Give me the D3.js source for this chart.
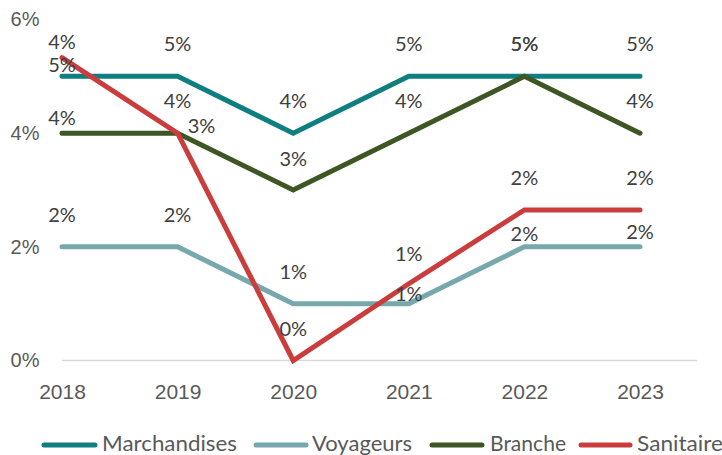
<!DOCTYPE html>
<html>
<head>
<meta charset="utf-8">
<script src="https://cdn.jsdelivr.net/npm/d3@7"></script>
<style>
  body { margin: 0; background: #fff; }
  svg { font-family: "Lato", "Open Sans", sans-serif; }
</style>
</head>
<body>
<svg></svg>
<script>
const years = ["2018", "2019", "2020", "2021", "2022", "2023"];
const seriesNames = ["Marchandises", "Voyageurs", "Branche", "Sanitaire"];
const marchandises = [5, 5, 4, 5, 5, 5];
const voyageurs = [2, 2, 1, 1, 2, 2];
const branche = [4, 4, 3, 4, 5, 4];
const sanitaire = [5.33, 4, 0, 1.35, 2.65, 2.65];
const marchandisesLabels = ["5%", "5%", "4%", "5%", "5%", "5%"];
const voyageursLabels = ["2%", "2%", "1%", "1%", "2%", "2%"];
const brancheLabels = ["4%", "4%", "3%", "4%", "5%", "4%"];
const sanitaireLabels = ["4%", "3%", "0%", "1%", "2%", "2%"];
const yTicks = [0, 2, 4, 6];

const colors = ["#0f7e80", "#77a8ac", "#3e5623", "#cb3c3c"];

// label offsets (dx, dy from point to text centre)
const labelOffsets = [
  [[0, -11], [0, -32], [0, -32], [0, -32], [0, -32], [0, -32]],
  [[0, -32], [0, -32], [0, -32], [0, -10], [0, -13], [0, -15]],
  [[0, -15], [0, -32], [0, -31], [0, -32], [0, -32], [0, -32]],
  [[0, -16], [24, -7], [0, -32], [0, -30], [0, -32], [0, -32]],
];

const series = [
  { name: seriesNames[0], values: marchandises, labels: marchandisesLabels },
  { name: seriesNames[1], values: voyageurs, labels: voyageursLabels },
  { name: seriesNames[2], values: branche, labels: brancheLabels },
  { name: seriesNames[3], values: sanitaire, labels: sanitaireLabels },
];

const svg = d3.select("svg").attr("width", 722).attr("height", 455);

const xScale = d3.scalePoint().domain(years).range([62, 640]);
const yScale = d3.scaleLinear().domain([0, 6]).range([360.5, 19.5]);

// baseline
svg.append("line")
  .attr("x1", 62).attr("x2", 697)
  .attr("y1", yScale(0)).attr("y2", yScale(0))
  .attr("stroke", "#d9d9d9").attr("stroke-width", 1.3);

// y axis labels
const yAxis = d3.axisLeft(yScale)
  .tickValues(yTicks)
  .tickFormat((d) => d + "%")
  .tickSize(0);

svg.append("g")
  .call(yAxis)
  .call((g) => g.select(".domain").remove())
  .call((g) => g.selectAll("text")
    .attr("fill", "#595959")
    .style("font-size", "20px")
    .attr("text-anchor", "middle")
    .attr("x", 25));

// x axis labels
const xAxis = d3.axisBottom(xScale).tickSize(0).tickPadding(0);
svg.append("g")
  .attr("transform", `translate(0, ${yScale(0)})`)
  .call(xAxis)
  .call((g) => g.select(".domain").remove())
  .call((g) => g.selectAll("text")
    .attr("fill", "#595959")
    .attr("y", 31)
    .attr("dy", "0.35em")
    .style("font-size", "21px"));

const line = d3.line()
  .x((d, i) => xScale(years[i]))
  .y((d) => yScale(d));

series.forEach((s, si) => {
  svg.append("path")
    .datum(s.values)
    .attr("fill", "none")
    .attr("stroke", colors[si])
    .attr("stroke-width", 5)
    .attr("stroke-linecap", "round")
    .attr("stroke-linejoin", "miter")
    .attr("d", line);
});

series.forEach((s, si) => {
  svg.append("g")
    .selectAll("text")
    .data(s.values)
    .enter()
    .append("text")
    .attr("x", (d, i) => xScale(years[i]) + labelOffsets[si][i][0])
    .attr("y", (d, i) => yScale(d) + labelOffsets[si][i][1])
    .attr("dy", "0.35em")
    .attr("text-anchor", "middle")
    .attr("fill", "#404040")
    .style("font-size", "20px")
    .text((d, i) => s.labels[i]);
});

// legend
const legendSample = [[42, 97], [254, 308], [430, 484], [579, 632]];
const legendText = [102, 312, 490, 637];
const legendWidth = [135, 100, 76, 86];
const legend = svg.append("g").attr("transform", "translate(0, 444)");
seriesNames.forEach((name, i) => {
  legend.append("line")
    .attr("x1", legendSample[i][0] + 2).attr("x2", legendSample[i][1] - 2)
    .attr("y1", 1).attr("y2", 1)
    .attr("stroke", colors[i])
    .attr("stroke-width", 5)
    .attr("stroke-linecap", "round");
  legend.append("text")
    .attr("x", legendText[i])
    .attr("y", 0)
    .attr("dy", "0.35em")
    .attr("fill", "#595959")
    .attr("textLength", legendWidth[i])
    .attr("lengthAdjust", "spacingAndGlyphs")
    .style("font-size", "21px")
    .text(name);
});
</script>
</body>
</html>
